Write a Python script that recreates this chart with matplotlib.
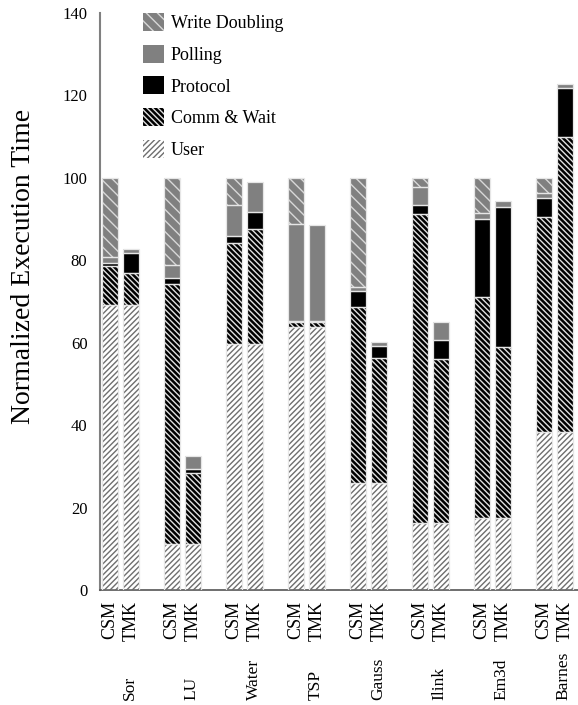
import numpy as np
import matplotlib
matplotlib.use("Agg")
import matplotlib.pyplot as plt
import matplotlib.transforms as mtransforms
from matplotlib.patches import Patch

plt.rcParams['font.family'] = ['Liberation Serif', 'DejaVu Serif']
plt.rcParams['hatch.linewidth'] = 1.0

benchmarks = ['Sor', 'LU', 'Water', 'TSP', 'Gauss', 'Ilink', 'Em3d', 'Barnes']
systems = ['CSM', 'TMK']

# breakdown of normalized execution time, bottom to top
csm_user = [69.2, 11.2, 59.7, 63.9, 25.9, 16.2, 17.4, 38.4]
csm_comm = [9.3, 63.0, 24.6, 1.1, 42.7, 75.1, 53.6, 52.1]
csm_protocol = [0.9, 1.4, 1.6, 0.2, 4.0, 2.1, 19.0, 4.6]
csm_polling = [1.3, 3.3, 7.4, 23.6, 0.9, 4.4, 1.4, 1.3]
csm_write_doubling = [19.3, 21.1, 6.7, 11.2, 26.5, 2.2, 8.6, 3.6]

tmk_user = [69.2, 11.2, 59.7, 63.9, 25.9, 16.2, 17.4, 38.4]
tmk_comm = [7.7, 17.1, 27.9, 1.1, 30.3, 39.8, 41.5, 71.6]
tmk_protocol = [4.8, 1.0, 4.0, 0.2, 3.1, 4.7, 34.1, 11.8]
tmk_polling = [1.1, 3.2, 7.4, 23.4, 0.8, 4.4, 1.3, 1.0]
tmk_write_doubling = [0, 0, 0, 0, 0, 0, 0, 0]

components = ['User', 'Comm & Wait', 'Protocol', 'Polling', 'Write Doubling']
# (face, hatch, hatch colour)
styles = {
    'User': ('white', '//////', '#6e6e6e'),
    'Comm & Wait': ('black', '\\' * 6, '#e0e0e0'),
    'Protocol': ('black', None, 'black'),
    'Polling': ('#808080', None, '#808080'),
    'Write Doubling': ('#808080', '\\' * 3, '#d8d8d8'),
}

csm_data = [csm_user, csm_comm, csm_protocol, csm_polling, csm_write_doubling]
tmk_data = [tmk_user, tmk_comm, tmk_protocol, tmk_polling, tmk_write_doubling]

fig = plt.figure(figsize=(5.78, 7.05), dpi=100)
ax = fig.add_axes([0.173, 0.163, 0.827, 0.8186])

idx = np.arange(len(benchmarks))
offset = 0.169
width = 0.26
x_csm = idx - offset
x_tmk = idx + offset

def stack(xpos, data):
    bottom = np.zeros(len(xpos))
    for name, vals in zip(components, data):
        vals = np.array(vals, dtype=float)
        face, hatch, hcol = styles[name]
        ax.bar(xpos, vals, width, bottom=bottom, color=face, hatch=hatch,
               edgecolor=hcol, linewidth=0, zorder=2)
        mask = vals > 0
        ax.bar(xpos[mask], vals[mask], width, bottom=bottom[mask], fill=False,
               edgecolor='#e6e6e6', linewidth=0.9, zorder=3)
        bottom += vals

stack(x_csm, csm_data)
stack(x_tmk, tmk_data)

ax.set_xlim(-0.331, 7.379)
ax.set_ylim(0, 140)
ax.set_yticks(np.arange(0, 141, 20))
ax.tick_params(axis='y', length=0, pad=9, labelsize=12)

xt = np.ravel(np.column_stack([x_csm, x_tmk]))
ax.set_xticks(xt)
ax.set_xticklabels(systems * len(benchmarks), rotation=90, fontsize=13, va='top')
ax.tick_params(axis='x', length=0, pad=8)

for s in ['top', 'right']:
    ax.spines[s].set_visible(False)
ax.spines['left'].set_color('#808080')
ax.spines['left'].set_linewidth(1.5)
ax.spines['bottom'].set_color('#555555')
ax.spines['bottom'].set_linewidth(1.2)

# benchmark names under each pair
trans = mtransforms.blended_transform_factory(ax.transData, fig.transFigure)
for i, name in enumerate(benchmarks):
    ax.text(i + 0.15, 0.007, name, transform=trans, rotation=90,
            ha='center', va='bottom', fontsize=12.5)

fig.text(0.04, 0.622, 'Normalized Execution Time', rotation=90,
         ha='center', va='center', fontsize=20)

handles = []
for name in components[::-1]:
    face, hatch, hcol = styles[name]
    handles.append(Patch(facecolor=face, hatch=hatch, edgecolor=hcol,
                         linewidth=0, label=name))
ax.legend(handles=handles, loc='upper left',
          bbox_to_anchor=(143 / 578, 1 - 13 / 705),
          bbox_transform=fig.transFigure, frameon=False, fontsize=13,
          handlelength=1.15, handleheight=1.15, labelspacing=0.7,
          handletextpad=0.4, borderpad=0, borderaxespad=0)

fig.savefig('out.png', dpi=100)
